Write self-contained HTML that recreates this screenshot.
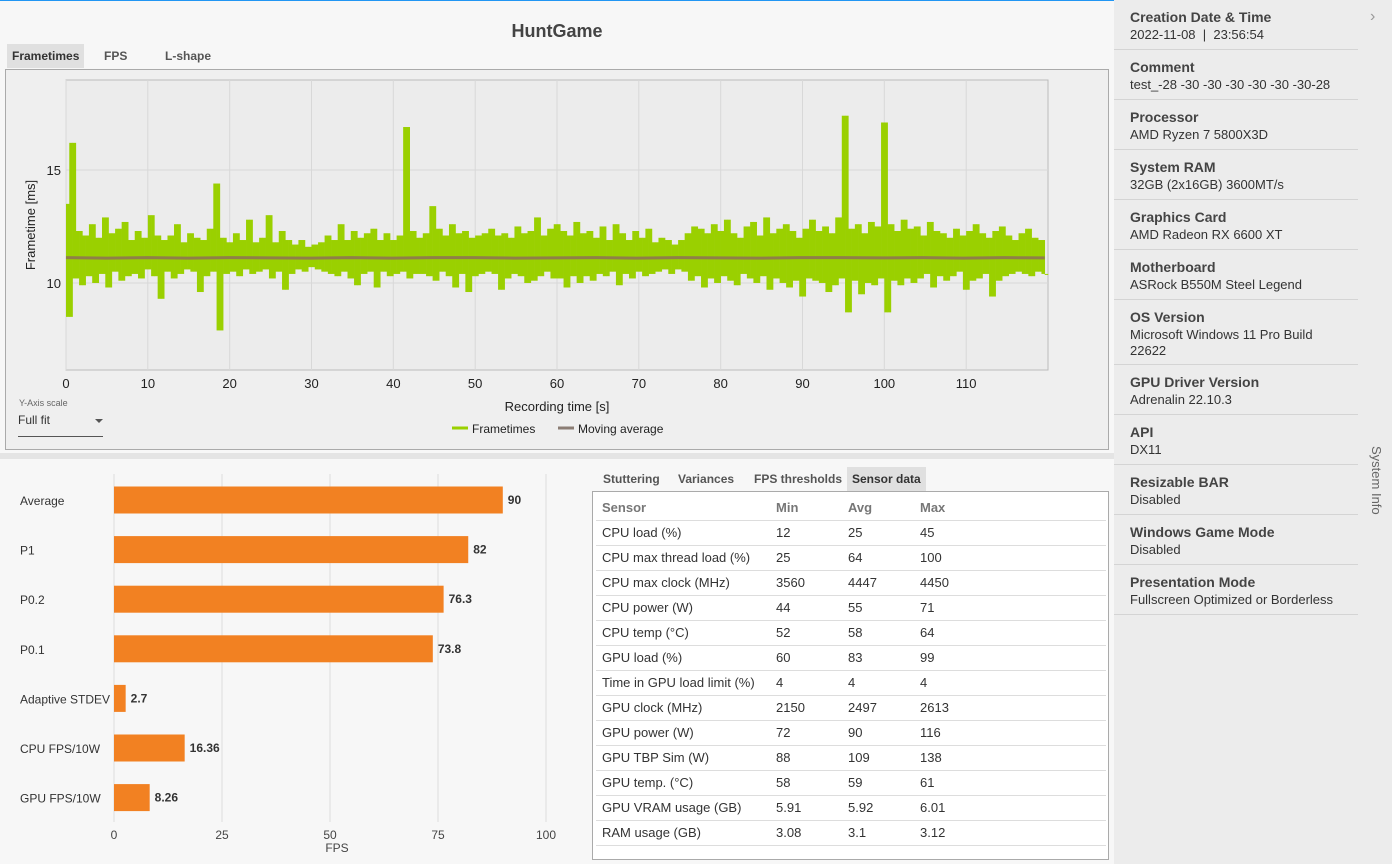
<!DOCTYPE html>
<html><head><meta charset="utf-8">
<style>
*{box-sizing:border-box;margin:0;padding:0}
body{width:1392px;height:864px;background:#f7f7f7;font-family:"Liberation Sans",sans-serif;position:relative;overflow:hidden;color:#222}
.abs{position:absolute}
.tab{position:absolute;font-size:12px;font-weight:bold;color:#555;padding:5px 5px}
.tab.sel{background:#e0e0e0;color:#333}
.side{position:absolute;left:1114px;top:0;width:278px;height:864px;background:#ececec}
.item{position:absolute;left:0;width:244px;border-bottom:1px solid #d4d4d4;padding-left:16px}
.item b{display:block;font-size:14px;color:#444;margin-top:9px}
.item span{display:block;font-size:13px;color:#333;margin-top:2px;line-height:16px}
table{border-collapse:collapse;font-size:13px}
td{height:25px;border-bottom:1px solid #ddd;padding:0;color:#333}
th{height:24px;text-align:left;font-weight:bold;color:#777;border-bottom:1px solid #ddd;font-size:13px}
</style></head><body>
<div class="abs" style="left:0;top:0;width:1392px;height:1px;background:#2196f3"></div>
<div class="abs" style="left:0;width:1114px;top:21px;text-align:center;font-size:18px;font-weight:bold;color:#444">HuntGame</div>
<div class="tab sel" style="left:7px;top:44px">Frametimes</div>
<div class="tab" style="left:99px;top:44px">FPS</div>
<div class="tab" style="left:160px;top:44px">L-shape</div>
<div class="abs" style="left:5px;top:69px;width:1104px;height:381px;border:1px solid #aaa;background:#efefef"></div>
<svg class="abs" id="ft" style="left:0;top:0" width="1114" height="452"></svg>
<div class="abs" style="left:19px;top:398px;font-size:9px;color:#666">Y-Axis scale</div>
<div class="abs" style="left:18px;top:413px;width:85px;height:24px;border-bottom:1px solid #555;font-size:12px;color:#333">Full fit<span style="position:absolute;right:0;top:6px;border-left:4px solid transparent;border-right:4px solid transparent;border-top:4px solid #555"></span></div>
<div class="abs" style="left:0;top:453px;width:1114px;height:6px;background:#e4e4e4"></div>
<svg class="abs" id="bars" style="left:0;top:460px" width="580" height="404"></svg>
<div class="tab" style="left:598px;top:467px">Stuttering</div>
<div class="tab" style="left:673px;top:467px">Variances</div>
<div class="tab" style="left:749px;top:467px">FPS thresholds</div>
<div class="tab sel" style="left:847px;top:467px">Sensor data</div>
<div class="abs" style="left:592px;top:491px;width:517px;height:369px;border:1px solid #aaa;background:#fff;padding:4px 3px">
<table style="width:510px" id="st">
<tr><th style="padding-left:6px;width:180px">Sensor</th><th style="width:72px">Min</th><th style="width:72px">Avg</th><th>Max</th></tr>
</table></div>
<div class="side">
<div class="abs" style="left:256px;top:8px;font-size:16px;color:#999">›</div>
<div class="abs" style="transform:rotate(90deg);transform-origin:left top;font-size:13px;color:#666;white-space:nowrap;left:270px;top:446px">System Info</div>
<div id="items"></div>
</div>
<script>
// ---------- frametime chart data ----------
const frametimes=[13.5,8.5,16.2,10.2,12.3,9.9,12.1,10.3,12.6,10.0,
12.0,10.4,12.9,9.8,12.2,10.5,12.4,10.1,12.7,10.3,
11.9,10.4,12.3,10.2,12.0,10.6,13.0,10.3,12.1,9.3,
11.9,10.5,12.1,10.2,12.6,10.4,11.8,10.6,12.2,10.5,
12.0,9.6,11.9,10.3,12.4,10.5,14.4,7.9,12.0,10.4,
11.8,10.5,12.2,10.3,11.9,10.6,12.8,10.4,11.8,10.5,
12.0,10.6,13.0,10.2,11.8,10.5,12.3,9.7,11.9,10.4,
11.7,10.6,11.9,10.5,11.6,10.7,11.7,10.6,11.8,10.5,
12.1,10.4,11.9,10.3,12.6,10.5,11.9,10.2,12.3,9.9,
12.0,10.4,12.2,10.5,12.4,9.8,11.9,10.5,12.2,10.3,
11.9,10.4,12.1,10.5,16.9,10.2,12.3,10.4,12.0,10.4,
12.2,10.3,13.4,10.1,12.4,10.5,12.1,10.3,12.6,9.8,
12.2,10.4,12.3,9.6,12.0,10.3,12.1,10.4,12.2,10.5,
12.4,10.4,12.1,9.7,12.2,10.2,12.0,10.4,12.5,10.3,
12.2,10.0,12.3,10.1,12.9,10.3,12.1,10.5,12.4,10.2,
12.6,10.2,12.3,9.8,12.1,10.3,12.7,10.0,12.2,10.3,
12.3,10.1,12.0,10.4,12.5,10.3,11.9,10.5,12.6,9.9,
12.2,10.4,11.9,10.2,12.3,10.5,12.0,10.3,12.4,10.4,
11.8,10.5,12.0,10.6,11.9,10.4,11.7,10.6,11.9,10.5,
12.2,10.1,12.5,10.3,12.4,9.8,12.2,10.2,12.6,10.0,
12.3,10.3,12.8,10.1,12.2,9.9,12.0,10.4,12.5,10.2,
12.7,10.0,12.1,10.3,12.9,9.7,12.2,10.2,12.4,10.0,
12.6,9.8,12.3,10.1,12.0,9.4,12.4,10.2,12.8,10.1,
12.3,10.0,12.5,9.6,12.2,9.9,12.9,10.2,17.4,8.7,
12.4,10.1,12.6,9.5,12.2,10.0,12.7,9.9,12.5,10.2,
17.1,8.7,12.6,10.1,12.3,9.9,12.8,10.2,12.4,10.0,
12.5,10.2,12.1,10.4,12.7,9.8,12.3,10.3,12.2,10.1,
12.0,10.3,12.4,10.5,12.1,9.7,12.3,10.1,12.6,10.2,
12.2,10.4,12.0,9.4,12.3,10.1,12.5,10.3,12.1,10.4,
11.9,10.5,12.2,10.4,12.4,10.3,12.0,10.5,11.9,10.4];
const sampleInterval=0.4;
const movingAvg=[11.12,11.1,11.12,11.1,11.12,11.11,11.1,11.12,11.1,11.12,11.12,11.1,11.11,11.12,11.1,11.12,11.11,11.1,11.12,11.12,11.11,11.12,11.1,11.12,11.11];
const xTicks=[0,10,20,30,40,50,60,70,80,90,100,110];
const yTicks=[10,15];
const NS='http://www.w3.org/2000/svg';
function mk(p,t,a){const e=document.createElementNS(NS,t);for(const k in a)e.setAttribute(k,a[k]);p.appendChild(e);return e;}
const ft=document.getElementById('ft');
const PX0=66,PX1=1048,PY0=80,PY1=370,XMAX=120,YMIN=6.15,YMAX=18.98;
const sx=v=>PX0+(v/XMAX)*(PX1-PX0);
const sy=v=>PY1-(v-YMIN)/(YMAX-YMIN)*(PY1-PY0);
const bg=mk(ft,'rect',{x:PX0,y:PY0,width:PX1-PX0,height:PY1-PY0,fill:'#ececec',stroke:'#bbb'});


xTicks.forEach(t=>{const l=mk(ft,'line',{x1:sx(t),x2:sx(t),y1:PY0,y2:PY1,stroke:'#d8d8d8'});


const tx=mk(ft,'text',{x:sx(t),y:388,'text-anchor':'middle','font-size':13,fill:'#222'});tx.textContent=t;

});
yTicks.forEach(t=>{const l=mk(ft,'line',{x1:PX0,x2:PX1,y1:sy(t),y2:sy(t),stroke:'#d8d8d8'});


const tx=mk(ft,'text',{x:61,y:sy(t)+5,'text-anchor':'end','font-size':13,fill:'#222'});tx.textContent=t;

});
const bw=sx(sampleInterval)-sx(0);
const g=mk(ft,'g',{fill:'#9ad000'});


frametimes.forEach((v,i)=>{const n=i+1<frametimes.length?frametimes[i+1]:v;
const y1=Math.min(sy(v),sy(n)),y2=Math.max(sy(v),sy(n));
const r=mk(g,'rect',{x:sx(i*sampleInterval),y:y1,width:bw+0.3,height:Math.max(y2-y1,1)});

});
const step=(frametimes.length-1)*sampleInterval/(movingAvg.length-1);
const mal=mk(ft,'polyline',{points:movingAvg.map((v,i)=>sx(i*step)+','+sy(v)).join(' '),fill:'none',stroke:'#8f7f48','stroke-width':3});


let t1=mk(ft,'text',{x:557,y:411,'text-anchor':'middle','font-size':13,fill:'#222'});t1.textContent='Recording time [s]';


let t2=mk(ft,'text',{x:35,y:225,'text-anchor':'middle','font-size':13,fill:'#222',transform:'rotate(-90 35 225)'});t2.textContent='Frametime [ms]';


const lg1=mk(ft,'line',{x1:452,x2:468,y1:428,y2:428,stroke:'#9ad000','stroke-width':3});


let lt1=mk(ft,'text',{x:472,y:433,'font-size':12,fill:'#222'});lt1.textContent='Frametimes';


const lg2=mk(ft,'line',{x1:558,x2:574,y1:428,y2:428,stroke:'#8b7d74','stroke-width':3});


let lt2=mk(ft,'text',{x:578,y:433,'font-size':12,fill:'#222'});lt2.textContent='Moving average';



// ---------- bar chart data ----------
const barCategories=['Average','P1','P0.2','P0.1','Adaptive STDEV','CPU FPS/10W','GPU FPS/10W'];
const barValues=[90,82,76.3,73.8,2.7,16.36,8.26];
const barLabels=['90','82','76.3','73.8','2.7','16.36','8.26'];
const fpsTicks=[0,25,50,75,100];
const bs=document.getElementById('bars');
const bx=v=>114+v*4.32;
fpsTicks.forEach(t=>{const l=mk(bs,'line',{x1:bx(t),x2:bx(t),y1:14,y2:362,stroke:'#ddd'});


const tx=mk(bs,'text',{x:bx(t),y:379,'text-anchor':'middle','font-size':12,fill:'#444'});tx.textContent=t;

});
let fl=mk(bs,'text',{x:337,y:392,'text-anchor':'middle','font-size':12,fill:'#444'});fl.textContent='FPS';


barValues.forEach((v,i)=>{const cy=40+i*49.6;
const r=mk(bs,'rect',{x:bx(0),y:cy-13.5,width:bx(v)-bx(0),height:27,fill:'#f28122'});


const c=mk(bs,'text',{x:20,y:cy+5,'font-size':12,fill:'#333'});c.textContent=barCategories[i];


const lb=mk(bs,'text',{x:bx(v)+5,y:cy+4,'font-size':12,'font-weight':'bold',fill:'#333'});lb.textContent=barLabels[i];

});

// ---------- sensor table ----------
const sensors=[['CPU load (%)','12','25','45'],['CPU max thread load (%)','25','64','100'],['CPU max clock (MHz)','3560','4447','4450'],['CPU power (W)','44','55','71'],['CPU temp (°C)','52','58','64'],['GPU load (%)','60','83','99'],['Time in GPU load limit (%)','4','4','4'],['GPU clock (MHz)','2150','2497','2613'],['GPU power (W)','72','90','116'],['GPU TBP Sim (W)','88','109','138'],['GPU temp. (°C)','58','59','61'],['GPU VRAM usage (GB)','5.91','5.92','6.01'],['RAM usage (GB)','3.08','3.1','3.12']];
const st=document.getElementById('st');
sensors.forEach(r=>{const tr=document.createElement('tr');


r.forEach((c,j)=>{const td=document.createElement('td');td.textContent=c;if(j==0)td.style.paddingLeft='6px';tr.appendChild(td);});st.appendChild(tr);});

// ---------- sidebar ----------
const info=[['Creation Date & Time','2022-11-08 &nbsp;| &nbsp;23:56:54',50],['Comment','test_-28 -30 -30 -30 -30 -30 -30-28',50],['Processor','AMD Ryzen 7 5800X3D',50],['System RAM','32GB (2x16GB) 3600MT/s',50],['Graphics Card','AMD Radeon RX 6600 XT',50],['Motherboard','ASRock B550M Steel Legend',50],['OS Version','Microsoft Windows 11 Pro Build<br>22622',65],['GPU Driver Version','Adrenalin 22.10.3',50],['API','DX11',50],['Resizable BAR','Disabled',50],['Windows Game Mode','Disabled',50],['Presentation Mode','Fullscreen Optimized or Borderless',50]];
const items=document.getElementById('items');let y=0;
info.forEach(it=>{const d=document.createElement('div');d.className='item';d.style.top=y+'px';d.style.height=it[2]+'px';
d.innerHTML='<b>'+it[0]+'</b><span>'+it[1]+'</span>';


items.appendChild(d);y+=it[2];});
</script>
</body></html>
